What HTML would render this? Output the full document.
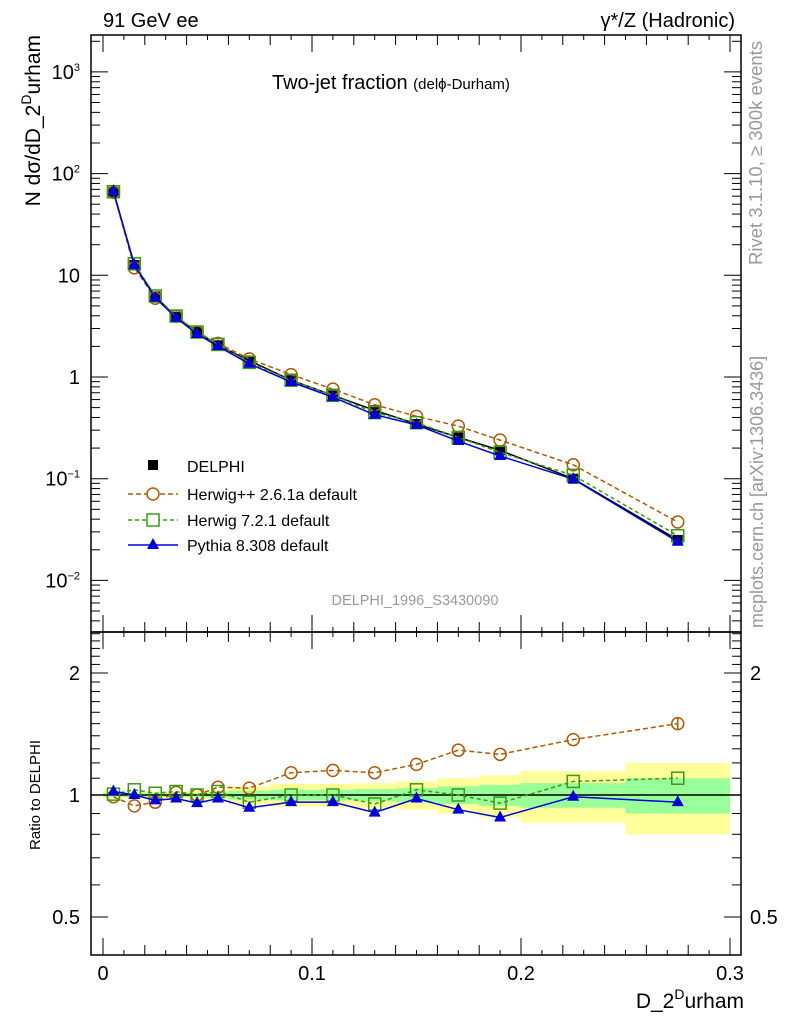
<!DOCTYPE html>
<html><head><meta charset="utf-8"><style>
html,body{margin:0;padding:0;background:#fff}
svg{display:block;font-family:"Liberation Sans",sans-serif}
</style></head><body>
<svg id="chart" width="786" height="1024" viewBox="0 0 786 1024" xmlns="http://www.w3.org/2000/svg">
<g id="bands"></g>
<g id="marks"></g>
<g id="axes"></g>
<text x="103" y="27" font-size="20">91 GeV ee</text>
<text x="735" y="27" font-size="20" text-anchor="end">γ*/Z (Hadronic)</text>
<text x="272" y="89" font-size="20">Two-jet fraction <tspan font-size="15">(delϕ-Durham)</tspan></text>
<text x="415" y="605" font-size="14.5" fill="#999" text-anchor="middle">DELPHI_1996_S3430090</text>
<text transform="translate(762,265) rotate(-90)" font-size="18.5" fill="#999">Rivet 3.1.10, ≥ 300k events</text>
<text transform="translate(763,628) rotate(-90)" font-size="18" fill="#999">mcplots.cern.ch [arXiv:1306.3436]</text>
<text transform="translate(40,35) rotate(-90)" font-size="21" text-anchor="end">N dσ/dD_2<tspan font-size="14" dy="-9">D</tspan><tspan dy="9">urham</tspan></text>
<text transform="translate(40,795) rotate(-90)" font-size="15" text-anchor="middle">Ratio to DELPHI</text>
<text x="744" y="1008" font-size="21" text-anchor="end">D_2<tspan font-size="14" dy="-9">D</tspan><tspan dy="9">urham</tspan></text>
<g>
<rect x="148" y="460" width="10" height="10" fill="#000"/>
<text x="187" y="472" font-size="16">DELPHI</text>
<line x1="128" y1="494" x2="178" y2="494" stroke="#b35900" stroke-width="1.5" stroke-dasharray="5,3"/>
<circle cx="153" cy="494" r="6" fill="#fff" stroke="#b35900" stroke-width="1.5"/>
<text x="187" y="500" font-size="16">Herwig++ 2.6.1a default</text>
<line x1="128" y1="520" x2="178" y2="520" stroke="#3a9a10" stroke-width="1.5" stroke-dasharray="4,3"/>
<rect x="147" y="514" width="12" height="12" fill="#fff" stroke="#3a9a10" stroke-width="1.5"/>
<text x="187" y="526" font-size="16">Herwig 7.2.1 default</text>
<line x1="128" y1="545" x2="178" y2="545" stroke="#0000dd" stroke-width="1.5"/>
<path d="M153,538 L159,549 L147,549 Z" fill="#0000dd"/>
<text x="187" y="551" font-size="16">Pythia 8.308 default</text>
</g>
</svg>
<script>
const xCenters=[0.005,0.015,0.025,0.035,0.045,0.055,0.07,0.09,0.11,0.13,0.15,0.17,0.19,0.225,0.275];
const binEdges=[0,0.01,0.02,0.03,0.04,0.05,0.06,0.08,0.1,0.12,0.14,0.16,0.18,0.2,0.25,0.3];
const delphi=[66,12.6,6.2,3.9,2.77,2.05,1.45,0.93,0.66,0.47,0.345,0.255,0.19,0.1,0.025];
const bandOuter=[0.02,0.02,0.02,0.02,0.025,0.03,0.05,0.065,0.065,0.07,0.08,0.1,0.12,0.145,0.2];
const bandInner=[0.01,0.01,0.01,0.01,0.012,0.015,0.025,0.03,0.03,0.035,0.04,0.05,0.06,0.07,0.1];
const ratioHerwigPP=[0.99,0.94,0.96,1.015,1.0,1.045,1.04,1.135,1.15,1.135,1.19,1.29,1.26,1.37,1.5];
const ratioHerwig7=[1.005,1.03,1.01,1.02,1.0,1.02,0.96,1.0,1.0,0.95,1.03,1.0,0.955,1.08,1.1];
const ratioPythia=[1.02,1.0,0.97,0.98,0.955,0.98,0.93,0.96,0.96,0.905,0.98,0.92,0.88,0.99,0.96];
const mainTicks=[0.01,0.1,1,10,100,1000];
const mainTickLabels=["10<tspan font-size='11' dy='-8'>−2</tspan>","10<tspan font-size='11' dy='-8'>−1</tspan>","1","10","10<tspan font-size='11' dy='-8'>2</tspan>","10<tspan font-size='11' dy='-8'>3</tspan>"];
const ratioTicks=[0.5,1,2];
const xTicks=[0,0.1,0.2,0.3];

const NS="http://www.w3.org/2000/svg";
const L=91,R=741,T=35,MB=632,B=955;
const X=v=>103+v*(730-103)/0.3;
const YM=v=>377-Math.log10(v)*101.7;
const YR=v=>795-Math.log2(v)*122;
function mk(p,tag,a){const e=document.createElementNS(NS,tag);for(const k in a)e.setAttribute(k,a[k]);p.appendChild(e);return e;}
const bands=document.getElementById('bands'),marks=document.getElementById('marks'),axes=document.getElementById('axes');

for(let i=0;i<xCenters.length;i++){
 const x0=X(binEdges[i]),x1=X(binEdges[i+1]);
 const a=mk(bands,'rect',{x:x0,y:YR(1+bandOuter[i]),width:x1-x0,height:YR(1-bandOuter[i])-YR(1+bandOuter[i]),fill:'#ffff99'});
 
 
 const b=mk(bands,'rect',{x:x0,y:YR(1+bandInner[i]),width:x1-x0,height:YR(1-bandInner[i])-YR(1+bandInner[i]),fill:'#99ff99'});
 
 
}
mk(bands,'line',{x1:L,x2:R,y1:YR(1),y2:YR(1),stroke:'#000','stroke-width':1.5});

function series(vals,Y,color,dash,marker,name){
 const pts=vals.map((v,i)=>X(xCenters[i])+','+Y(v)).join(' ');
 const pl=mk(marks,'polyline',{points:pts,fill:'none',stroke:color,'stroke-width':1.5,'stroke-dasharray':dash||'none'});
 
 
 vals.forEach((v,i)=>{
  const cx=X(xCenters[i]),cy=Y(v);let m;
  if(marker==='circle')m=mk(marks,'circle',{cx:cx,cy:cy,r:6,fill:'none',stroke:color,'stroke-width':1.5});
  else if(marker==='square')m=mk(marks,'rect',{x:cx-6,y:cy-6,width:12,height:12,fill:'none',stroke:color,'stroke-width':1.5});
  else if(marker==='fsquare')m=mk(marks,'rect',{x:cx-5,y:cy-5,width:10,height:10,fill:color});
  else m=mk(marks,'path',{d:`M${cx},${cy-7}L${cx+6},${cy+4}L${cx-6},${cy+4}Z`,fill:color});
  
  
 });
}
series(delphi,YM,'#000',null,'fsquare','delphi');
series(delphi.map((d,i)=>d*ratioHerwigPP[i]),YM,'#b35900','5,3','circle','herwigpp');
series(delphi.map((d,i)=>d*ratioHerwig7[i]),YM,'#3a9a10','4,3','square','herwig7');
series(delphi.map((d,i)=>d*ratioPythia[i]),YM,'#0000dd',null,'tri','pythia');
series(ratioHerwigPP,YR,'#b35900','5,3','circle','herwigpp-ratio');
series(ratioHerwig7,YR,'#3a9a10','4,3','square','herwig7-ratio');
series(ratioPythia,YR,'#0000dd',null,'tri','pythia-ratio');
{const i=ratioHerwigPP.length-1;mk(marks,'line',{x1:X(xCenters[i]),x2:X(xCenters[i]),y1:YR(ratioHerwigPP[i]*1.03),y2:YR(ratioHerwigPP[i]*0.97),stroke:'#b35900','stroke-width':1.5});}

mk(axes,'rect',{x:L,y:T,width:R-L,height:MB-T,fill:'none',stroke:'#000','stroke-width':1.5});
mk(axes,'rect',{x:L,y:MB,width:R-L,height:B-MB,fill:'none',stroke:'#000','stroke-width':1.5});
function tick(x1,y1,x2,y2){mk(axes,'line',{x1,y1,x2,y2,stroke:'#000','stroke-width':1});}
for(let d=-3;d<=3;d++)for(let k=1;k<10;k++){const y=YM(k*Math.pow(10,d));if(y<T||y>MB)continue;const len=k===1?17:9;tick(L,y,L+len,y);tick(R,y,R-len,y);}
mainTicks.forEach((v,i)=>{const t=mk(axes,'text',{x:80,y:YM(v)+7,'font-size':20,'text-anchor':'end'});t.innerHTML=mainTickLabels[i];});
for(let v=0.4;v<=2.55;v+=0.1){const y=YR(v);if(y<MB||y>B)continue;const major=Math.abs(v-0.5)<1e-6||Math.abs(v-1)<1e-6||Math.abs(v-2)<1e-6;const len=major?17:9;tick(L,y,L+len,y);tick(R,y,R-len,y);}
ratioTicks.forEach(v=>{const t=mk(axes,'text',{x:80,y:YR(v)+7,'font-size':20,'text-anchor':'end'});t.textContent=String(v);
 if(v!==1){const t2=mk(axes,'text',{x:750,y:YR(v)+7,'font-size':20});t2.textContent=String(v);}});
for(let i=0;i<=30;i++){const v=i*0.01,x=X(v);const len=i%10===0?17:(i%2===0?10:5);tick(x,MB,x,MB-len);tick(x,T,x,T+len);tick(x,B,x,B-len);tick(x,MB,x,MB+len);}
xTicks.forEach(v=>{const t=mk(axes,'text',{x:X(v),y:980,'font-size':20,'text-anchor':'middle'});t.textContent=String(v);});
</script>
</body></html>
